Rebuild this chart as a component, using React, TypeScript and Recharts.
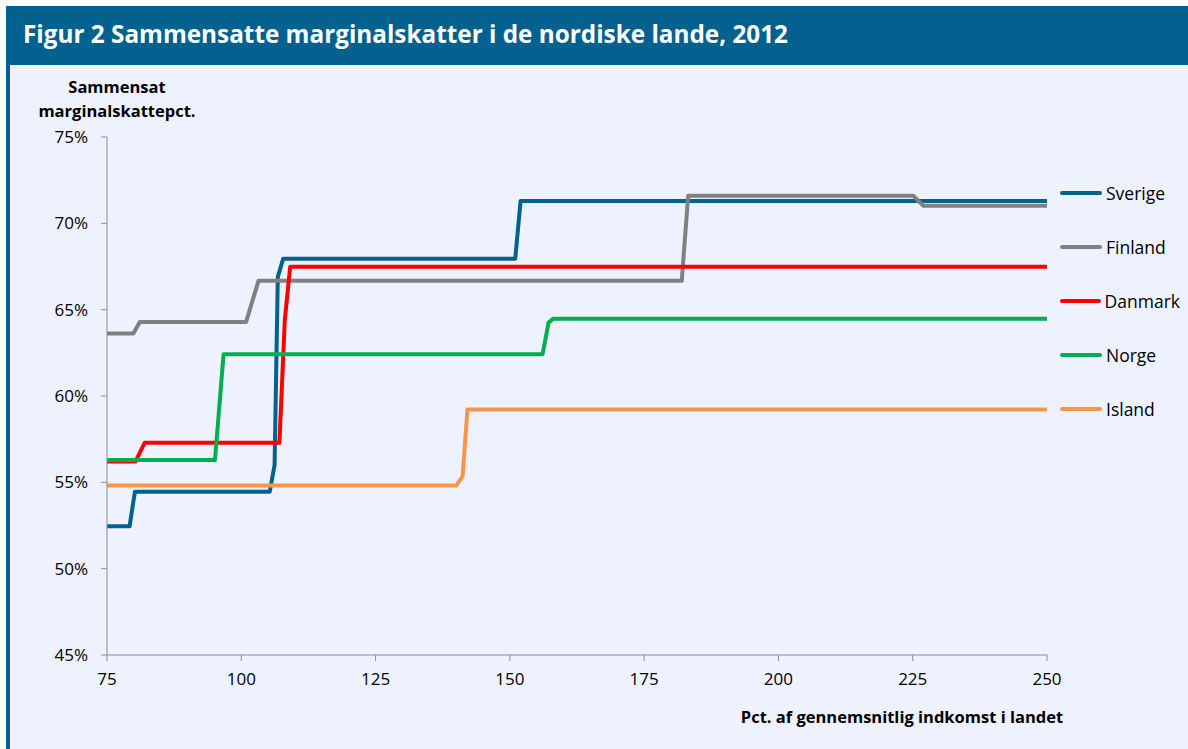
import { Legend, Line, LineChart, XAxis, YAxis } from "recharts";

// x = pct. af gennemsnitlig indkomst, y = sammensat marginalskat (%)
const sverigeX = [75, 79.2, 80.2, 105.3, 106.2, 106.8, 107.8, 151, 152, 250];
const sverigeY = [52.45, 52.45, 54.46, 54.46, 56, 66.9, 67.95, 67.95, 71.3, 71.3];

const finlandX = [75, 79.9, 81.1, 100.9, 103.2, 182, 183.2, 225.1, 227, 250];
const finlandY = [63.62, 63.62, 64.29, 64.29, 66.67, 66.67, 71.6, 71.6, 71.02, 71.02];

const danmarkX = [75, 80.3, 82, 107.1, 108.1, 109.1, 250];
const danmarkY = [56.2, 56.2, 57.29, 57.29, 64.4, 67.48, 67.48];

const norgeX = [75, 95.1, 95.6, 96.7, 156.1, 157.2, 158.1, 250];
const norgeY = [56.3, 56.3, 58.2, 62.42, 62.42, 64.25, 64.48, 64.48];

const islandX = [75, 140, 141.2, 142.1, 250];
const islandY = [54.81, 54.81, 55.35, 59.22, 59.22];

const xTicks = [75, 100, 125, 150, 175, 200, 225, 250];
const yTicks = [45, 50, 55, 60, 65, 70, 75];

const series = [
  { name: "Sverige", xs: sverigeX, ys: sverigeY, color: "#03618f" },
  { name: "Finland", xs: finlandX, ys: finlandY, color: "#808080" },
  { name: "Danmark", xs: danmarkX, ys: danmarkY, color: "#ff0000" },
  { name: "Norge", xs: norgeX, ys: norgeY, color: "#00b050" },
  { name: "Island", xs: islandX, ys: islandY, color: "#f79646" },
];

const toPoints = (xs: number[], ys: number[]) => xs.map((x, i) => ({ x, y: ys[i] }));

const font = "'Open Sans', sans-serif";
const order = series.map((s) => s.name);

function LegendBox({ payload }: any) {
  const items = [...(payload || [])].sort((a: any, b: any) => order.indexOf(a.value) - order.indexOf(b.value));
  return (
    <div>
      {items.map((p: any) => (
        <div key={p.value} style={{ display: "flex", alignItems: "center", height: 54 }}>
          <div style={{ width: 42, height: 4, background: p.color, borderRadius: 2 }} />
          <span style={{ marginLeft: 4, fontSize: 17.5, color: "#000", fontFamily: font }}>{p.value}</span>
        </div>
      ))}
    </div>
  );
}

export default function App() {
  return (
    <div style={{ position: "absolute", left: 0, top: 0, width: 1188, height: 749, background: "#fff", fontFamily: font }}>
      <div style={{ position: "absolute", left: 6, top: 6, width: 1182, height: 59, background: "#02618f" }}>
        <div style={{ position: "absolute", left: 17, top: 11, color: "#fff", fontWeight: 700, fontSize: 24.3, whiteSpace: "nowrap" }}>
          Figur 2 Sammensatte marginalskatter i de nordiske lande, 2012
        </div>
      </div>
      <div style={{ position: "absolute", left: 6, top: 65, width: 1182, height: 684, background: "#eef2fe", borderLeft: "4px solid #02618f", boxSizing: "border-box" }} />
      <div style={{ position: "absolute", left: 17, top: 75, width: 200, textAlign: "center", fontWeight: 700, fontSize: 16.5, lineHeight: "24px", color: "#000" }}>
        Sammensat
        <br />
        marginalskattepct.
      </div>
      <div style={{ position: "absolute", left: 0, top: 0 }}>
        <LineChart width={1188} height={749} margin={{ top: 137, right: 21, bottom: 64, left: 47 }}>
          <XAxis
            dataKey="x"
            type="number"
            domain={[75, 250]}
            ticks={xTicks}
            allowDataOverflow
            stroke="#8c8c8c"
            tickSize={6}
            tickMargin={12}
            height={30}
            tick={{ fill: "#000", fontSize: 17, fontFamily: font }}
          />
          <YAxis
            type="number"
            domain={[45, 75]}
            ticks={yTicks}
            tickFormatter={(v: number) => `${v}%`}
            stroke="#8c8c8c"
            tickSize={6}
            tickMargin={13}
            width={60}
            tick={{ fill: "#000", fontSize: 17, fontFamily: font }}
          />
          {series.map((s) => (
            <Line
              key={s.name}
              name={s.name}
              data={toPoints(s.xs, s.ys)}
              dataKey="y"
              type="linear"
              stroke={s.color}
              strokeWidth={4}
              strokeLinecap="round"
              strokeLinejoin="round"
              dot={false}
              activeDot={false}
              isAnimationActive={false}
            />
          ))}
          <Legend
            layout="vertical"
            align="right"
            verticalAlign="top"
            content={<LegendBox />}
            wrapperStyle={{ left: 1060, top: 166, width: 120 }}
          />
        </LineChart>
      </div>
      <div style={{ position: "absolute", left: 702, top: 705, width: 400, textAlign: "center", fontWeight: 700, fontSize: 16.5, color: "#000", whiteSpace: "nowrap" }}>
        Pct. af gennemsnitlig indkomst i landet
      </div>
    </div>
  );
}
